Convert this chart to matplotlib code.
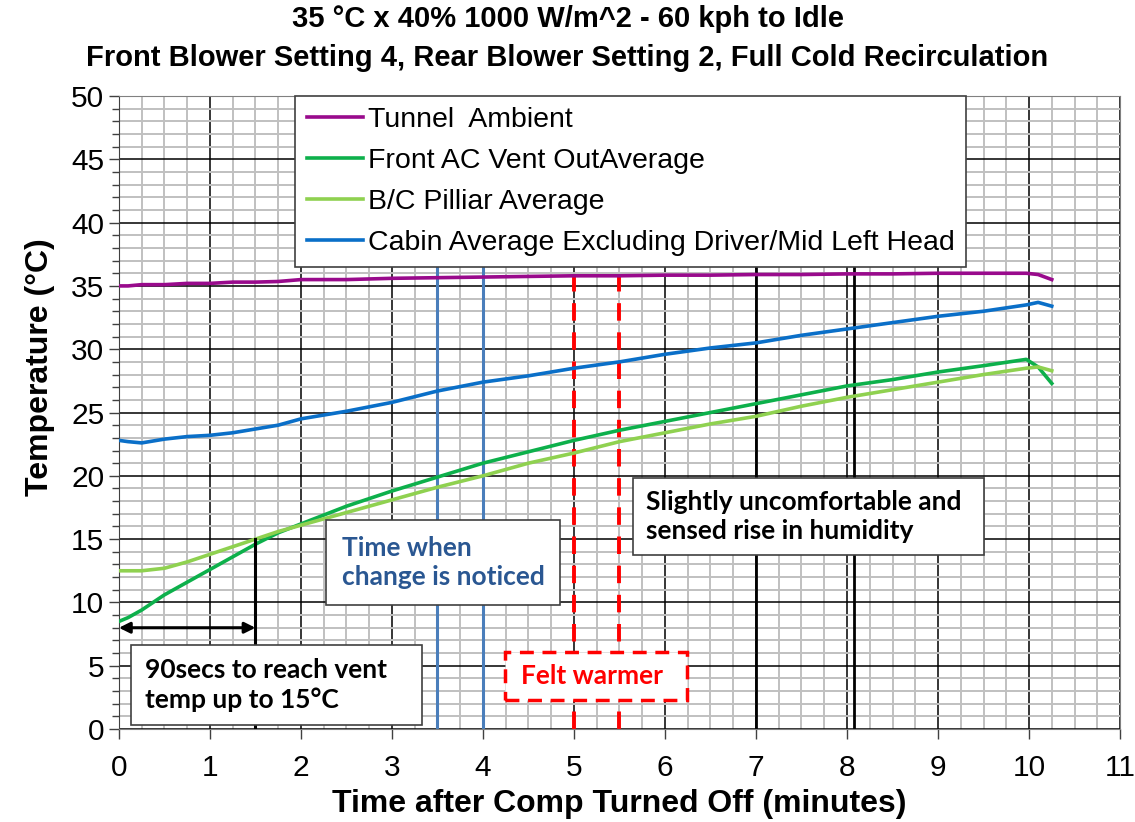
import numpy as np
import matplotlib
matplotlib.use('Agg')
import matplotlib.pyplot as plt
from matplotlib.ticker import MultipleLocator
from matplotlib.patches import Rectangle

# --- dados ---
t = [0, 0.1, 0.25, 0.5, 0.75, 1, 1.25, 1.5, 1.75, 2, 2.5, 3, 3.5, 4, 4.5, 5,
     5.5, 6, 6.5, 7, 7.5, 8, 8.5, 9, 9.5, 9.97, 10.1, 10.25]

tunnel = [35.0, 35.0, 35.1, 35.1, 35.2, 35.2, 35.3, 35.3, 35.35, 35.5, 35.5, 35.6, 35.65, 35.7,
          35.75, 35.8, 35.8, 35.85, 35.85, 35.9, 35.9, 35.95, 35.95, 36.0, 36.0, 36.0, 35.9, 35.5]
front_vent = [8.5, 8.8, 9.4, 10.6, 11.6, 12.6, 13.6, 14.6, 15.5, 16.2, 17.6, 18.8, 19.9, 21.0,
              21.9, 22.8, 23.6, 24.3, 25.0, 25.7, 26.4, 27.1, 27.6, 28.2, 28.7, 29.2, 28.6, 27.3]
pillar = [12.5, 12.5, 12.5, 12.7, 13.2, 13.8, 14.4, 15.0, 15.6, 16.1, 17.1, 18.1, 19.1, 20.0,
          21.0, 21.8, 22.7, 23.4, 24.1, 24.7, 25.5, 26.2, 26.8, 27.4, 28.0, 28.5, 28.6, 28.3]
cabin = [22.8, 22.7, 22.6, 22.9, 23.1, 23.2, 23.4, 23.7, 24.0, 24.5, 25.1, 25.8, 26.7, 27.4,
         27.9, 28.5, 29.0, 29.6, 30.1, 30.5, 31.1, 31.6, 32.1, 32.6, 33.0, 33.5, 33.7, 33.4]

series_labels = ['Tunnel  Ambient', 'Front AC Vent OutAverage', 'B/C Pilliar Average',
                 'Cabin Average Excluding Driver/Mid Left Head']
series_colors = ['#990A8C', '#0DB04B', '#8FD150', '#0A6FC8']

noticed_times = [3.5, 4.0]
warmer_times = [5.0, 5.5]
black_marks = [7.0, 8.08]
reach_time = 1.5
reach_temp = 15
arrow_temp = 8

title = '35 °C x 40% 1000 W/m^2 - 60 kph to Idle\nFront Blower Setting 4, Rear Blower Setting 2, Full Cold Recirculation'

plt.rcParams['font.family'] = ['Liberation Sans', 'DejaVu Sans']
calibri = ['Lato', 'DejaVu Sans']

fig = plt.figure(figsize=(11.35, 8.22), dpi=100)
ax = fig.add_axes([0.1048, 0.1131, 0.8820, 0.7701])

# grade
ax.set_xlim(0, 11)
ax.set_ylim(0, 50)
ax.xaxis.set_major_locator(MultipleLocator(1))
ax.xaxis.set_minor_locator(MultipleLocator(0.25))
ax.yaxis.set_major_locator(MultipleLocator(5))
ax.yaxis.set_minor_locator(MultipleLocator(1))
ax.grid(which='minor', color='#c0c0c0', linewidth=1.4)
ax.grid(which='major', color='black', linewidth=1.1)
ax.set_axisbelow(True)
ax.tick_params(axis='both', which='major', labelsize=21.5, length=7, width=1, color='#404040')
ax.tick_params(axis='x', which='major', pad=11)
ax.tick_params(axis='y', which='minor', length=5, width=1, color='#404040')
ax.tick_params(axis='x', which='minor', length=0)
for s in ax.spines.values():
    s.set_color('#808080')
ax.spines['left'].set_color('#404040')

# linhas de anotação
for xv in noticed_times:
    ax.axvline(xv, color='#4A7EBB', linewidth=2.2, zorder=2)
for xv in warmer_times:
    ax.axvline(xv, color='#FF0000', linewidth=2.8, linestyle=(0, (4.5, 3)), zorder=2)
for xv in black_marks:
    ax.axvline(xv, color='black', linewidth=2.0, zorder=2)

# séries
for ys, lab, col in zip([tunnel, front_vent, pillar, cabin], series_labels, series_colors):
    ax.plot(t, ys, color=col, linewidth=2.6, label=lab, zorder=3)

# 90 s para 15 °C
ax.plot([reach_time, reach_time], [0, reach_temp], color='black', linewidth=2.2, zorder=4)
ax.annotate('', xy=(0, arrow_temp), xytext=(reach_time, arrow_temp),
            arrowprops=dict(arrowstyle='<|-|>', color='black', lw=2.2, mutation_scale=16,
                            shrinkA=0, shrinkB=0), zorder=4)


def caixa(x0, x1, y0, y1, texto, xt, cor='black', borda='#404040', ls='-', lw=1.2, ha='left'):
    ax.add_patch(Rectangle((x0, y0), x1 - x0, y1 - y0, facecolor='white', edgecolor=borda,
                           linewidth=lw, linestyle=ls, zorder=6))
    ax.text(xt, (y0 + y1) / 2, texto, family=calibri, fontweight='bold', fontsize=19,
            color=cor, ha=ha, va='center', linespacing=1.25, zorder=7)


caixa(0.132, 3.333, 0.32, 6.64, '90secs to reach vent\ntemp up to 15°C', 0.29)
caixa(2.277, 4.851, 9.79, 16.51, 'Time when\nchange is noticed', 2.45, cor='#2A5792')
caixa(5.644, 9.505, 13.74, 19.83, 'Slightly uncomfortable and\nsensed rise in humidity', 5.79)
caixa(4.246, 6.238, 2.29, 6.08, 'Felt warmer', 5.2, cor='#FF0000', borda='#FF0000',
      ls=(0, (4, 2.5)), lw=2.5, ha='center')

leg = ax.legend(loc='upper left', bbox_to_anchor=(0.176, 1.0), borderaxespad=0,
                fontsize=20.5, handlelength=2.0, handletextpad=0.15, labelspacing=0.52,
                fancybox=False, framealpha=1, edgecolor='#404040', borderpad=0.4)
leg.get_frame().set_linewidth(1.2)
leg.set_zorder(8)

ax.set_xlabel('Time after Comp Turned Off (minutes)', fontweight='bold', fontsize=23,
              labelpad=5)
ax.set_ylabel('Temperature (°C)', fontweight='bold', fontsize=23)
ax.yaxis.set_label_coords(-0.064, 0.572)
fig.suptitle(title, fontweight='bold', fontsize=21, y=0.994, linespacing=1.5)

fig.savefig('out.png', dpi=100)
